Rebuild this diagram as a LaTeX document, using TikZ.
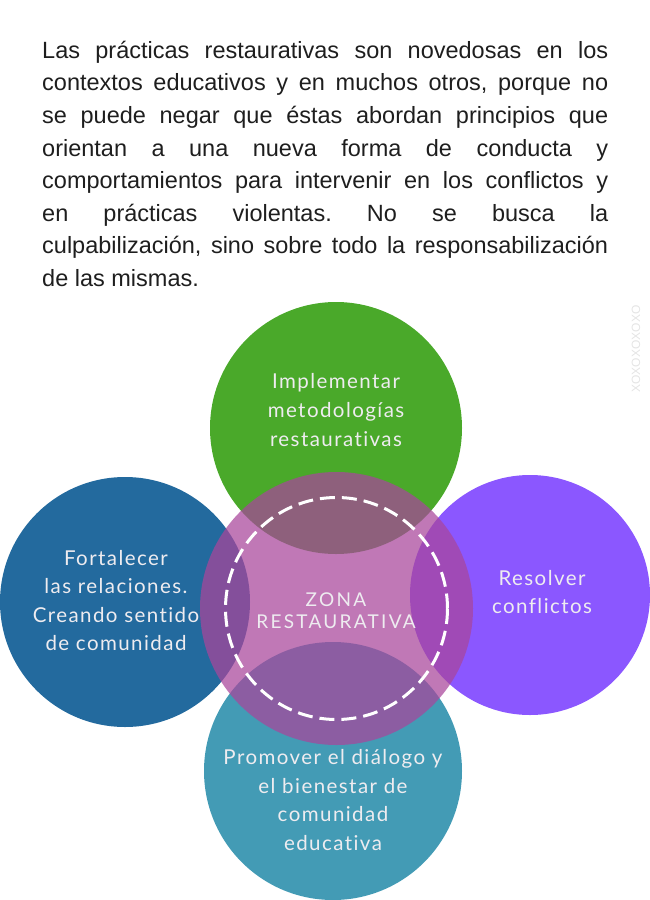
\documentclass[tikz,border=0pt]{standalone}
\usepackage{fontspec}
\setmainfont{Liberation Sans}
\newfontfamily\circfont[LetterSpace=7,Ligatures=NoCommon]{Lato}
\newfontfamily\zonafont[LetterSpace=12,Ligatures=NoCommon]{Lato}
\usepackage{xcolor}
\definecolor{RPGreen}{RGB}{74,169,42}
\definecolor{RPBlue}{RGB}{35,106,158}
\definecolor{RPViolet}{RGB}{139,87,255}
\definecolor{RPTeal}{RGB}{67,155,181}
\definecolor{RPPink}{RGB}{168,70,155}
\definecolor{RPText}{RGB}{238,236,240}
\definecolor{RPInk}{RGB}{30,30,30}
\definecolor{RPMark}{RGB}{228,228,228}

\begin{document}
\begin{tikzpicture}[x=1pt,y=-1pt,
  circ/.style={circle,inner sep=0pt,outer sep=0pt,minimum size=#1},
  lbl/.style={font=\fontsize{20.5}{28.6}\selectfont\circfont,text=RPText,align=center,inner sep=0pt},
]
\useasboundingbox (0,0) rectangle (650,900);
\node[anchor=base west,text width=566pt,align=justify,inner sep=0pt,text=RPInk,
  font=\fontsize{23.5}{32.6}\selectfont] (intro) at (42,58.3)
  {\frenchspacing\tolerance=10000\relax\hyphenpenalty=10000\relax
   Las prácticas restaurativas son novedosas en los\linebreak
   contextos educativos y en muchos otros, porque no\linebreak
   se puede negar que éstas abordan principios que\linebreak
   orientan a una nueva forma de conducta y\linebreak
   comportamientos para intervenir en los conflictos y\linebreak
   en prácticas violentas. No se busca la\linebreak
   culpabilización, sino sobre todo la responsabilización\linebreak
   de las mismas.};
\node[rotate=90,text=RPMark,font=\fontsize{12}{12}\selectfont] (mark) at (636,349) {XOXOXOXOXO};
\node[circ=252pt,fill=RPGreen] (impl) at (336,428) {};
\node[circ=250pt,fill=RPBlue] (fort) at (125,602) {};
\node[circ=240pt,fill=RPViolet] (reso) at (530,595) {};
\node[circ=258pt,fill=RPTeal] (prom) at (333,771) {};
\node[circ=273pt,fill=RPPink,fill opacity=0.73] (zone) at (336.5,608.5) {};
\node[circ=222pt,draw=white,line width=3pt,dash pattern=on 15pt off 7pt] (ring) at (zone.center) {};
\node[lbl] (impltxt) at (336,410) {Implementar\\metodologías\\restaurativas};
\node[lbl] (forttxt) at (116,600.5) {Fortalecer\\las relaciones.\\Creando sentido\\de comunidad};
\node[lbl] (resotxt) at (542,592) {Resolver\\conflictos};
\node[lbl] (promtxt) at (333,800) {Promover el diálogo y\\el bienestar de\\comunidad\\educativa};
\node[lbl,font=\fontsize{19}{22}\selectfont\zonafont] (zonetxt) at (336,610.5) {ZONA\\RESTAURATIVA};
\end{tikzpicture}
\end{document}
